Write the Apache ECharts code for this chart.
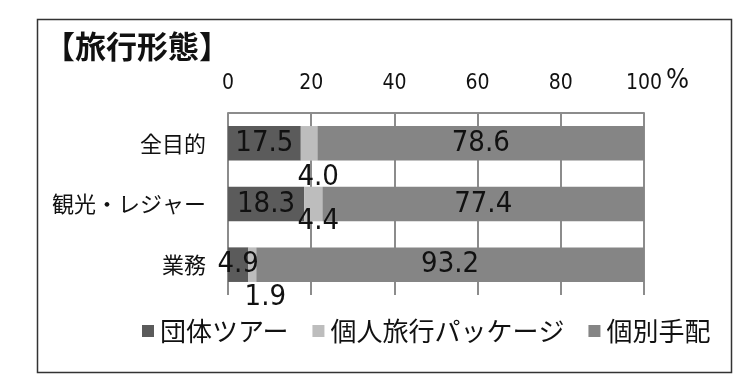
<!DOCTYPE html>
<html>
<head>
<meta charset="utf-8">
<script src="https://cdn.jsdelivr.net/npm/echarts@6/dist/echarts.min.js"></script>
<style>html,body{margin:0;padding:0;background:#fff}#c{width:751px;height:391px}</style>
</head>
<body>
<div id="c"></div>
<script>
const categories = ['全目的', '観光・レジャー', '業務'];
const seriesNames = ['団体ツアー', '個人旅行パッケージ', '個別手配'];
const groupTour = [17.5, 18.3, 4.9];
const packageTour = [4.0, 4.4, 1.9];
const individual = [78.6, 77.4, 93.2];
const tickLabels = [0, 20, 40, 60, 80, 100];

const numFont = '"Liberation Sans Narrow", "DejaVu Sans Condensed", "Roboto", sans-serif';
const jpFont = '"Noto Sans CJK JP", sans-serif';
const colors = ['#5b5b5b', '#bdbdbd', '#858585'];
const pkgOffsets = [[9, 34], [5, 17], [13, 33]];

const chart = echarts.init(document.getElementById('c'));
const labelBase = {show: true, position: 'inside', fontSize: 29, color: '#111', fontFamily: numFont,
  formatter: p => p.value.toFixed(1)};

chart.setOption({
  animation: false,
  color: colors,
  grid: {left: 228, right: 107, top: 113, bottom: 96},
  xAxis: {
    type: 'value', position: 'top', min: tickLabels[0], max: tickLabels[tickLabels.length - 1], interval: 20,
    axisLine: {show: true, lineStyle: {color: '#8c8c8c', width: 2}},
    axisTick: {show: false},
    splitLine: {show: true, lineStyle: {color: '#8c8c8c', width: 2}},
    axisLabel: {fontSize: 21, color: '#111', margin: 19, fontFamily: numFont}
  },
  yAxis: {
    type: 'category', inverse: true, data: categories,
    axisLine: {show: false}, axisTick: {show: false},
    axisLabel: {fontSize: 22, color: '#111', margin: 22, fontFamily: jpFont}
  },
  legend: {
    top: 313, left: 137, icon: 'rect', itemWidth: 12, itemHeight: 12, itemGap: 24,
    textStyle: {fontSize: 26, color: '#111', fontFamily: jpFont, padding: [0, 0, 0, 1]},
    data: seriesNames
  },
  series: [
    {name: seriesNames[0], type: 'bar', stack: 't', barWidth: '57%', data: groupTour, label: labelBase},
    {name: seriesNames[1], type: 'bar', stack: 't', barWidth: '57%',
      data: packageTour.map((v, i) => ({value: v, label: {offset: pkgOffsets[i]}})), label: labelBase},
    {name: seriesNames[2], type: 'bar', stack: 't', barWidth: '57%', data: individual, label: labelBase}
  ],
  graphic: [
    {type: 'rect', shape: {x: 37.5, y: 19.5, width: 694, height: 353}, style: {fill: null, stroke: '#333', lineWidth: 1.5}, silent: true},
    {type: 'text', left: 44, top: 31, style: {text: '【旅行形態】', font: 'bold 31px "Noto Sans CJK JP", sans-serif', fill: '#111'}},
    {type: 'text', left: 666, top: 67, style: {text: '%', font: '27px ' + numFont, fill: '#111'}}
  ]
});
</script>
</body>
</html>
